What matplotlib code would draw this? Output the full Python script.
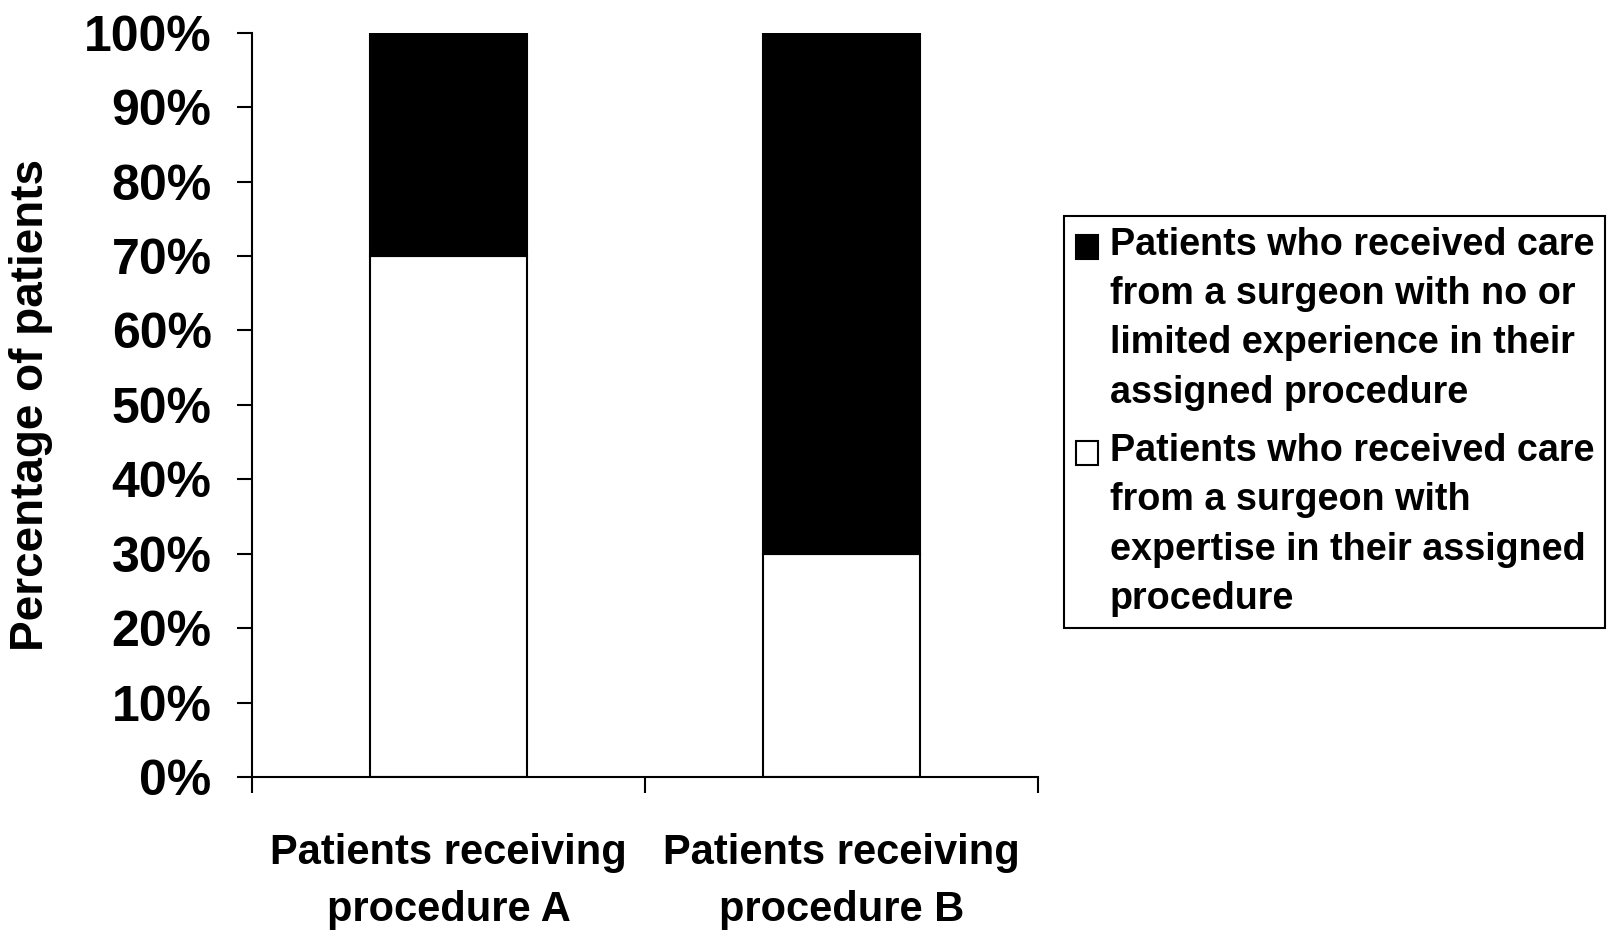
import numpy as np
import matplotlib
matplotlib.use("Agg")
import matplotlib.pyplot as plt
from matplotlib.ticker import PercentFormatter
from matplotlib.patches import Rectangle
from matplotlib.legend_handler import HandlerPatch

plt.rcParams['font.family'] = ['Liberation Sans', 'DejaVu Sans']
plt.rcParams['font.weight'] = 'bold'

categories = ['Patients receiving\nprocedure A', 'Patients receiving\nprocedure B']
expertise = [70, 30]      # white segment
limited = [30, 70]        # black segment
series_labels = ['Patients who received care\nfrom a surgeon with no or\nlimited experience in their\nassigned procedure',
                 'Patients who received care\nfrom a surgeon with\nexpertise in their assigned\nprocedure']
yticks = np.arange(0, 101, 10)

LEG_LINESPACING = 1.47


def top_square(legend, orig_handle, xdescent, ydescent, width, height, fontsize):
    # legend handle sits on the first line of the label, not in the middle
    shift = 1.5 * 1.28 * fontsize
    return Rectangle((-xdescent, -ydescent + shift), width, height)


fig = plt.figure(figsize=(16.15, 9.34), dpi=100)
ax = fig.add_axes([0.156, 0.168, 0.487, 0.797])

x = np.arange(len(categories))
b_white = ax.bar(x, expertise, width=0.4, color='white', edgecolor='black', linewidth=1.5)
b_black = ax.bar(x, limited, width=0.4, bottom=expertise, color='black', edgecolor='black', linewidth=1.5)

ax.set_xlim(-0.5, len(categories) - 0.5)
ax.set_ylim(0, 100)
ax.set_yticks(yticks)
ax.yaxis.set_major_formatter(PercentFormatter(decimals=0))
ax.tick_params(axis='y', direction='out', length=11, width=1.5, pad=18, labelsize=36)

ax.set_xticks(x)
ax.set_xticklabels(categories, fontsize=30, linespacing=1.55)
ax.tick_params(axis='x', which='major', length=0, pad=40)
ax.set_xticks(np.arange(-0.5, len(categories)), minor=True)
ax.tick_params(axis='x', which='minor', direction='out', length=11.5, width=1.5)

for s in ['top', 'right']:
    ax.spines[s].set_visible(False)
for s in ['left', 'bottom']:
    ax.spines[s].set_linewidth(1.5)

ax.set_ylabel('Percentage of patients', fontsize=33, fontweight='bold', labelpad=22)

h_black, h_white = b_black.patches[0], b_white.patches[0]
leg = fig.legend([h_black, h_white], series_labels, loc='upper left',
                 bbox_to_anchor=(0.659, 0.769), borderaxespad=0, fontsize=27.2,
                 frameon=True, fancybox=False, edgecolor='black', framealpha=1,
                 handlelength=0.6, handleheight=0.6, handletextpad=0.3,
                 borderpad=0.3, labelspacing=0.6,
                 handler_map={h_black: HandlerPatch(patch_func=top_square),
                              h_white: HandlerPatch(patch_func=top_square)})
leg.get_frame().set_linewidth(1.5)
for t in leg.get_texts():
    t.set_linespacing(LEG_LINESPACING)

fig.savefig('out.png', dpi=100)
